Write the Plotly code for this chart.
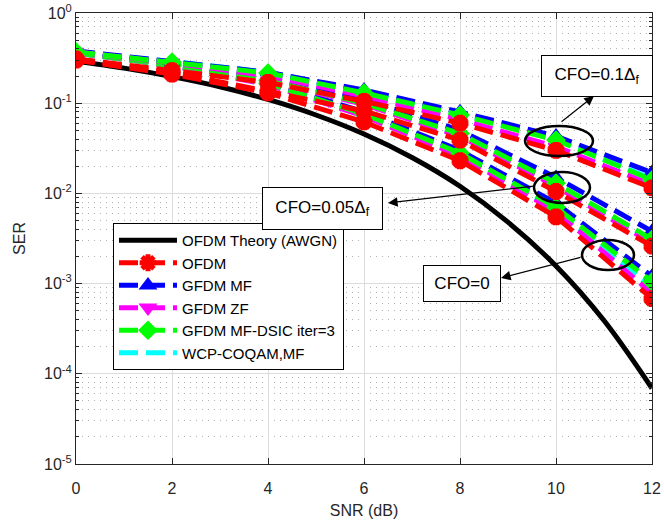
import plotly.graph_objects as go

# ---------------- data ----------------
snr_theory = [0, 1, 2, 3, 4, 5, 6, 7, 8, 9, 10, 11, 12]
ser_theory = [0.292, 0.245, 0.197, 0.152, 0.110, 0.074, 0.0455, 0.025, 0.012,
              0.0048, 0.00157, 0.00039, 0.000069]

snr = [0, 2, 4, 6, 8, 10, 12]

# CFO = 0
ofdm_0 = [0.30, 0.21, 0.13, 0.062, 0.023, 0.0055, 0.00068]
mf_0 = [0.37, 0.27, 0.17, 0.080, 0.030, 0.0078, 0.0012]
zf_0 = [0.36, 0.26, 0.16, 0.072, 0.026, 0.0063, 0.00078]
dsic_0 = [0.36, 0.26, 0.165, 0.076, 0.028, 0.0070, 0.00105]
wcp_0 = [0.36, 0.26, 0.165, 0.075, 0.027, 0.0066, 0.0009]

# CFO = 0.05
ofdm_05 = [0.31, 0.22, 0.135, 0.082, 0.039, 0.0105, 0.0026]
mf_05 = [0.37, 0.28, 0.19, 0.11, 0.050, 0.015, 0.0038]
zf_05 = [0.36, 0.27, 0.175, 0.097, 0.043, 0.012, 0.0028]
dsic_05 = [0.36, 0.27, 0.18, 0.10, 0.046, 0.013, 0.0031]
wcp_05 = [0.36, 0.27, 0.18, 0.10, 0.045, 0.013, 0.0030]

# CFO = 0.1
ofdm_1 = [0.31, 0.23, 0.17, 0.105, 0.060, 0.030, 0.0115]
mf_1 = [0.38, 0.29, 0.22, 0.14, 0.080, 0.043, 0.0170]
zf_1 = [0.37, 0.28, 0.20, 0.12, 0.066, 0.033, 0.0125]
dsic_1 = [0.37, 0.285, 0.216, 0.13, 0.074, 0.039, 0.0141]
wcp_1 = [0.37, 0.29, 0.22, 0.135, 0.077, 0.040, 0.0145]

names = ["OFDM", "GFDM MF", "GFDM ZF", "GFDM MF-DSIC iter=3", "WCP-COQAM,MF"]
colors = ["#ff0000", "#0000ff", "#ff00ff", "#00ff00", "#00ffff"]
symbols = ["asterisk-open", "triangle-up", "triangle-down", "diamond", None]
msizes = [14, 13, 13, 13, 0]
mlines = [6, 2, 2, 2, 0]
groups = [
    [ofdm_0, mf_0, zf_0, dsic_0, wcp_0],
    [ofdm_05, mf_05, zf_05, dsic_05, wcp_05],
    [ofdm_1, mf_1, zf_1, dsic_1, wcp_1],
]

FONT = "Liberation Sans, Arial, sans-serif"
TXT = "#262626"

fig = go.Figure()

fig.add_trace(go.Scatter(
    x=snr_theory, y=ser_theory, mode="lines", name="OFDM Theory (AWGN)",
    line=dict(color="black", width=5, shape="spline"), legendrank=1,
))

# draw order: cyan, blue, magenta, green, red (red on top)
draw_order = [4, 1, 2, 3, 0]
for gi, grp in enumerate(groups):
    for si in draw_order:
        vals = grp[si]
        if symbols[si] is None:
            mode = "lines"
            marker = None
        else:
            mode = "lines+markers"
            marker = dict(symbol=symbols[si], size=msizes[si], color=colors[si],
                          line=dict(color=colors[si], width=mlines[si]))
        fig.add_trace(go.Scatter(
            x=snr, y=vals, mode=mode, name=names[si],
            line=dict(color=colors[si], width=5, dash="19px,8px"),
            marker=marker, legendgroup=names[si], showlegend=(gi == 0),
            legendrank=2 + si,
        ))

# ---------------- layout helpers (pixel -> paper) ----------------
PX0, PX1, PY0, PY1 = 76, 652, 13, 464


def px(xp):
    return (xp - PX0) / (PX1 - PX0)


def py(yp):
    return (PY1 - yp) / (PY1 - PY0)


shapes = []
for (x0, x1, y0, y1) in [(525, 593, 126, 156), (534, 590, 172, 203), (582, 634, 240, 270)]:
    shapes.append(dict(type="circle", xref="paper", yref="paper",
                       x0=px(x0), x1=px(x1), y0=py(y1), y1=py(y0),
                       line=dict(color="black", width=2.5), layer="above"))

annotations = []
boxes = [
    ("CFO=0.1Δ<sub>f</sub>", 597, 76, 110, 40),
    ("CFO=0.05Δ<sub>f</sub>", 322.5, 208.5, 119, 41),
    ("CFO=0", 462, 283.5, 76, 35),
]
for text, cx, cy, w, h in boxes:
    annotations.append(dict(text=text, xref="paper", yref="paper", x=px(cx), y=py(cy),
                            xanchor="center", yanchor="middle", showarrow=False,
                            width=w, height=h, bgcolor="white", bordercolor="black",
                            borderwidth=1, borderpad=0,
                            font=dict(family=FONT, size=17, color="black")))

arrows = [
    (594, 96, 560, 123),
    (388, 203, 535, 186),
    (501, 278, 582, 257),
]
for hx, hy, tx, ty in arrows:
    annotations.append(dict(text="", xref="paper", yref="paper", x=px(hx), y=py(hy),
                            ax=tx - hx, ay=ty - hy, showarrow=True, arrowhead=2,
                            arrowsize=1.6, arrowwidth=1.2, arrowcolor="black", standoff=0))

minor_vals = [m * 10 ** e for e in range(-5, 0) for m in range(2, 10)]

fig.update_layout(
    width=664, height=529,
    margin=dict(l=PX0, r=664 - PX1, t=PY0, b=529 - PY1, autoexpand=False),
    paper_bgcolor="white", plot_bgcolor="white",
    font=dict(family=FONT, size=16, color=TXT),
    shapes=shapes, annotations=annotations,
    legend=dict(x=px(113), y=py(223), xanchor="left", yanchor="top",
                bgcolor="white", bordercolor="black", borderwidth=1,
                font=dict(family=FONT, size=15, color="black"),
                itemwidth=58, tracegroupgap=0, traceorder="normal"),
    xaxis=dict(range=[0, 12], tickvals=[0, 2, 4, 6, 8, 10, 12], automargin=False,
               showline=True, linecolor=TXT, linewidth=1, mirror="ticks",
               ticks="inside", ticklen=6, tickcolor=TXT, ticklabelstandoff=10,
               showgrid=True, gridcolor="#dcdcdc", gridwidth=1, zeroline=False,
               tickfont=dict(size=16, color=TXT),
               title=dict(text="SNR (dB)", font=dict(size=16, color=TXT), standoff=8)),
    yaxis=dict(type="log", range=[-5, 0], automargin=False,
               tickvals=[1e-5, 1e-4, 1e-3, 1e-2, 1e-1, 1],
               ticktext=["10<sup>-5</sup>", "10<sup>-4</sup>", "10<sup>-3</sup>",
                         "10<sup>-2</sup>", "10<sup>-1</sup>", "10<sup>0</sup>"],
               showline=True, linecolor=TXT, linewidth=1, mirror="ticks",
               ticks="inside", ticklen=6, tickcolor=TXT,
               showgrid=True, gridcolor="#dcdcdc", gridwidth=1, zeroline=False,
               tickfont=dict(size=16, color=TXT),
               minor=dict(tickvals=minor_vals, ticks="inside", ticklen=3, tickcolor=TXT,
                          showgrid=True, griddash="1px,5px", gridcolor="#b0b0b0", gridwidth=1),
               title=dict(text="SER", font=dict(size=16, color=TXT), standoff=14)),
)

fig.write_html("out.html", config={"displayModeBar": False},
               post_script="document.body.style.margin='0px';document.body.style.overflow='hidden';")
